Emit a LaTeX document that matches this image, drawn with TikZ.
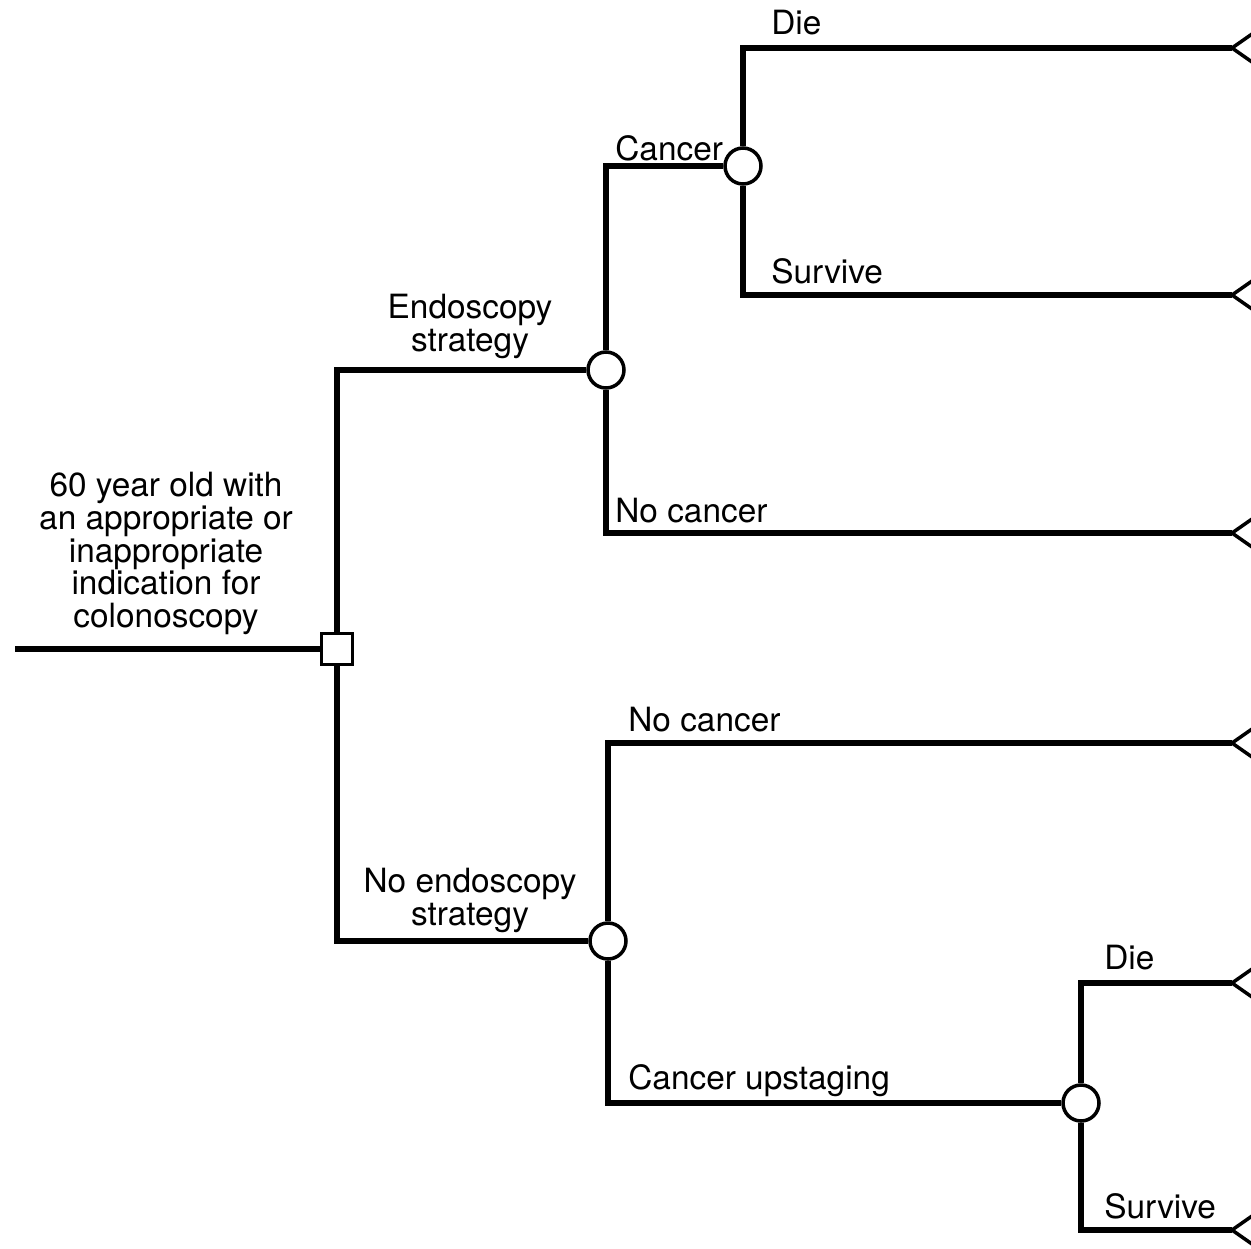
\documentclass[tikz,border=0pt]{standalone}
\usepackage{fontspec}
\setmainfont{TeX Gyre Heros}
\usepackage{tikz}
\usetikzlibrary{positioning}

\begin{document}
\begin{tikzpicture}[x=0.02cm, y=-0.02cm,
  branch/.style = {black, line width=3pt},
  choice/.style = {draw, fill=white, line width=2pt, minimum size=0.62cm, inner sep=0pt},
  chance/.style = {draw, fill=white, circle, line width=2pt, minimum size=0.72cm, inner sep=0pt},
  lbl/.style = {font=\fontsize{19}{18.5}\selectfont, inner sep=0pt, anchor=base west},
  stack/.style = {font=\fontsize{19}{18.5}\selectfont, inner sep=0pt, align=center, anchor=base}]
\useasboundingbox (0, 0) rectangle (1251, 1248);

\node[choice] (dec) at (337, 649) {};
\node[chance] (ce) at (606, 370) {};
\node[chance] (cc) at (743, 166) {};
\node[chance] (cn) at (608, 941) {};
\node[chance] (cu) at (1081, 1103) {};

\coordinate (s0) at (15, 649);
\coordinate (t1) at (1232, 48);
\coordinate (t2) at (1232, 295);
\coordinate (t3) at (1232, 533);
\coordinate (t4) at (1232, 743);
\coordinate (t5) at (1232, 983);
\coordinate (t6) at (1232, 1230);

\draw[branch] (s0) -- (dec);
\draw[branch] (dec) |- (ce);
\draw[branch] (dec) |- (cn);

\draw[branch] (ce) |- (cc);
\draw[branch] (ce) |- (t3);
\draw[branch] (cc) |- (t1);
\draw[branch] (cc) |- (t2);

\draw[branch] (cn) |- (t4);
\draw[branch] (cn) |- (cu);
\draw[branch] (cu) |- (t5);
\draw[branch] (cu) |- (t6);

% terminal nodes
\foreach \t in {t1, t2, t3, t4, t5, t6}
  \draw[line width=2pt, line join=miter] (\t) ++(30, -21) -- (\t) -- ++(30, 21);

\node[lbl] at (771, 34) {Die};
\node[lbl] at (615, 160) {Cancer};
\node[lbl] at (771, 283) {Survive};
\node[lbl] at (615, 522) {No cancer};
\node[stack] at (470, 351) {Endoscopy\\strategy};
\node[stack] at (166, 627) {60 year old with\\an appropriate or\\inappropriate\\indication for\\colonoscopy};

\node[lbl] at (628, 731) {No cancer};
\node[stack] at (470, 925) {No endoscopy\\strategy};
\node[lbl] at (1104, 969) {Die};
\node[lbl] at (628, 1089) {Cancer upstaging};
\node[lbl] at (1104, 1218) {Survive};
\end{tikzpicture}
\end{document}
